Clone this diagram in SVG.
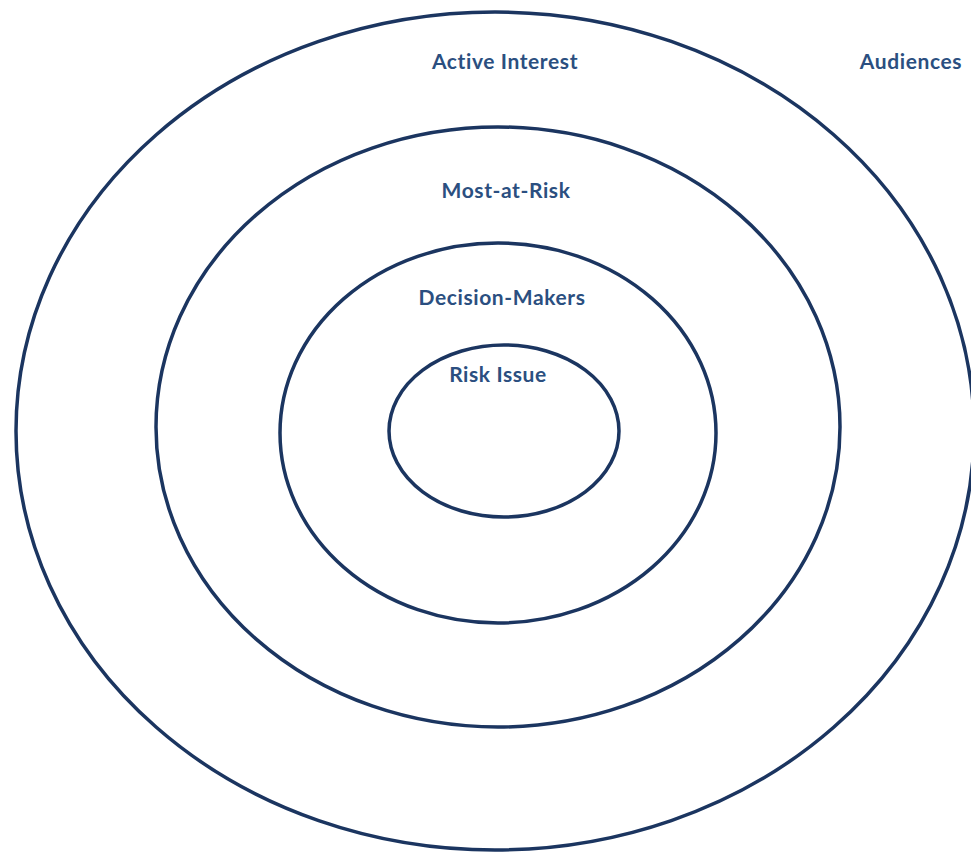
<svg xmlns="http://www.w3.org/2000/svg" width="971" height="854" viewBox="0 0 971 854">
<style>
.ring{fill:none;stroke:#1b3560;stroke-width:3.5}
.lbl{font-family:Lato,"Open Sans","Liberation Sans",sans-serif;font-weight:bold;font-size:21px;letter-spacing:0.6px;fill:#2b4f80;text-anchor:middle}
</style>
<rect width="971" height="854" fill="#ffffff"/>
<g id="active-interest">
<ellipse class="ring" cx="495" cy="431" rx="479" ry="419"/>
<text class="lbl" x="505" y="69">Active Interest</text>
</g>
<g id="audiences">
<text class="lbl" x="911" y="69">Audiences</text>
</g>
<g id="most-at-risk">
<ellipse class="ring" cx="498" cy="427" rx="342" ry="300"/>
<text class="lbl" x="506" y="198">Most-at-Risk</text>
</g>
<g id="decision-makers">
<ellipse class="ring" cx="498" cy="433" rx="218" ry="190"/>
<text class="lbl" x="502" y="305">Decision-Makers</text>
</g>
<g id="risk-issue">
<ellipse class="ring" cx="504" cy="431" rx="115" ry="86"/>
<text class="lbl" x="498" y="382">Risk Issue</text>
</g>
<g id="connectors"></g>
</svg>
